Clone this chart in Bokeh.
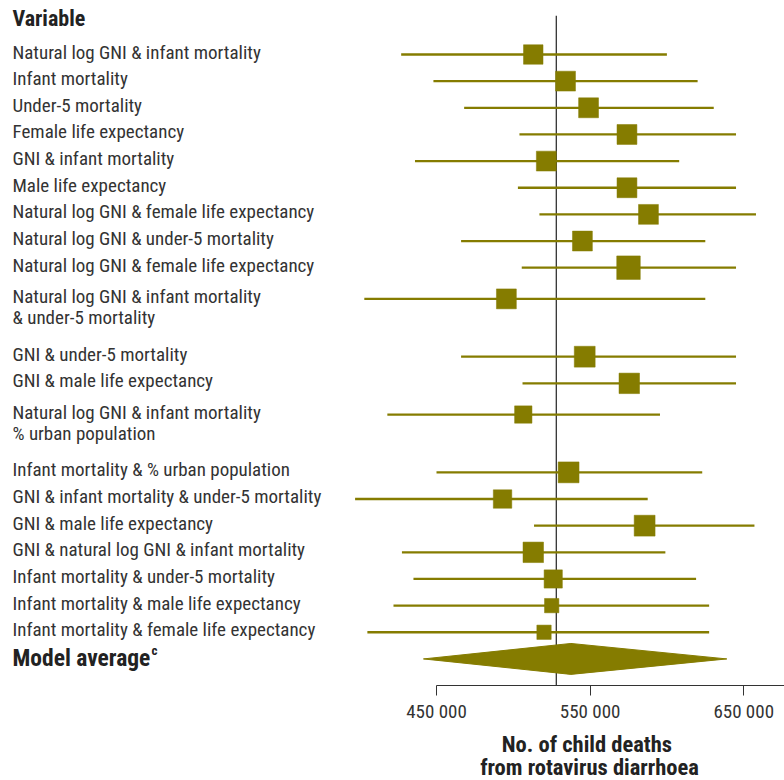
from bokeh.plotting import figure
from bokeh.models import Range1d, FixedTicker, ColumnDataSource, LabelSet, Label
from bokeh.core.properties import value
from bokeh.embed import file_html
from bokeh.resources import INLINE

# ---------------- data ----------------
labels = [
    "Natural log GNI & infant mortality",
    "Infant mortality",
    "Under-5 mortality",
    "Female life expectancy",
    "GNI & infant mortality",
    "Male life expectancy",
    "Natural log GNI & female life expectancy",
    "Natural log GNI & under-5 mortality",
    "Natural log GNI & female life expectancy",
    "Natural log GNI & infant mortality\n& under-5 mortality",
    "GNI & under-5 mortality",
    "GNI & male life expectancy",
    "Natural log GNI & infant mortality\n% urban population",
    "Infant mortality & % urban population",
    "GNI & infant mortality & under-5 mortality",
    "GNI & male life expectancy",
    "GNI & natural log GNI & infant mortality",
    "Infant mortality & under-5 mortality",
    "Infant mortality & male life expectancy",
    "Infant mortality & female life expectancy",
]
estimates = [513000, 534000, 549000, 574000, 521500, 574000, 588000, 545000, 575000, 495500,
             546500, 575500, 506500, 536000, 493000, 585500, 513000, 526000, 525000, 520000]
lower = [427000, 448000, 468000, 504000, 436000, 503000, 517000, 466000, 505500, 403000,
         466000, 506000, 418000, 450000, 397000, 513500, 427500, 435000, 422000, 405000]
upper = [600000, 620000, 630500, 645000, 608000, 645000, 658000, 625000, 645000, 625000,
         645000, 645000, 595500, 623000, 587500, 657000, 599000, 619000, 627500, 627500]
weights = [4.8, 5.0, 5.0, 5.0, 5.0, 5.0, 5.0, 5.0, 7.0, 5.0,
           5.5, 5.3, 3.8, 5.5, 4.3, 5.5, 5.3, 4.2, 2.6, 2.6]

avg_label = "Model average"
avg_lower, avg_estimate, avg_upper = 441500, 537500, 639000
reference_value = 528000

tick_values = [450000, 550000, 650000]
tick_labels = ["450 000", "550 000", "650 000"]
header = "Variable"
axis_title = ["No.  of child deaths", "from rotavirus diarrhoea"]

# ---------------- layout ----------------
OLIVE = "#857c00"
DARK = "#333333"
FONT = "'Liberation Sans Narrow', 'Roboto Condensed', 'Arial Narrow', Roboto, sans-serif"

W, H = 784, 780
AXIS_PX = 685     # px of the axis line from top
UNIT = 26.65      # px per row
FIRST = 54.0      # px of first row from top

n_lines = [s.count("\n") + 1 for s in labels]
pos = []
cur = 0.0
for i, n in enumerate(n_lines):
    if i > 0:
        cur += 1 + 0.17 * (n - 1) + 1.17 * (n_lines[i - 1] - 1)
    pos.append(cur)
avg_pos = pos[-1] + 1.0
header_pos = -1.37
axis_pos = (AXIS_PX - FIRST) / UNIT

x_start = 450000 - 436 * (100000 / 153.6)
x_end = 450000 + (W - 436) * (100000 / 153.6)

p = figure(width=W, height=H, output_backend="svg", toolbar_location=None,
           x_range=Range1d(x_start, x_end),
           y_range=Range1d((H - FIRST) / UNIT, -FIRST / UNIT),
           x_axis_location="below", y_axis_location=None,
           min_border=0)
p.outline_line_color = None
p.grid.visible = False
p.background_fill_color = "white"
p.border_fill_color = "white"

sizes = [8.9 * w ** 0.5 for w in weights]
src = ColumnDataSource(dict(y=pos, est=estimates, lo=lower, hi=upper,
                            size=sizes, label=labels))

# reference line
p.segment(x0=[reference_value], x1=[reference_value], y0=[header_pos - 0.08],
          y1=[axis_pos], line_color=DARK, line_width=1.3)

# CI lines & squares
p.segment(x0="lo", x1="hi", y0="y", y1="y", source=src, line_color=OLIVE, line_width=2.3)
p.scatter(x="est", y="y", size="size", marker="square", source=src,
          fill_color=OLIVE, line_color=OLIVE, line_width=0.5)

# diamond
half = 0.58
p.patch(x=[avg_lower, avg_estimate, avg_upper, avg_estimate],
        y=[avg_pos, avg_pos - half, avg_pos, avg_pos + half],
        fill_color=OLIVE, line_color=OLIVE, line_width=1)

# labels
ls = LabelSet(x=12, x_units="screen", y="y", text="label", source=src,
              text_font=value(FONT), text_font_size="19px", text_color=DARK,
              text_baseline="top", y_offset=14, text_line_height=0.92)
p.add_layout(ls)
p.add_layout(Label(x=12, x_units="screen", y=header_pos, text=header,
                   text_font=FONT, text_font_size="22px", text_font_style="bold",
                   text_color="#222222", text_baseline="middle", y_offset=-1))
p.add_layout(Label(x=12, x_units="screen", y=avg_pos, text=avg_label,
                   text_font=FONT, text_font_size="23.5px", text_font_style="bold",
                   text_color="#222222", text_baseline="middle", y_offset=1))
p.add_layout(Label(x=151, x_units="screen", y=avg_pos, text="c",
                   text_font=FONT, text_font_size="13px", text_font_style="bold",
                   text_color="#222222", text_baseline="middle", y_offset=8))

# axis (drawn at a fixed place inside the frame)
ax = p.xaxis[0]
ax.fixed_location = axis_pos
ax.bounds = (tick_values[0], x_end)
ax.ticker = FixedTicker(ticks=tick_values)
ax.major_label_overrides = {v: t for v, t in zip(tick_values, tick_labels)}
ax.minor_tick_line_color = None
ax.major_tick_in = 0
ax.major_tick_out = 10
ax.axis_line_color = DARK
ax.major_tick_line_color = DARK
ax.major_label_text_font = FONT
ax.major_label_text_font_size = "19px"
ax.major_label_text_color = DARK
ax.major_label_standoff = 4

# axis title
for i, t in enumerate(axis_title):
    p.add_layout(Label(x=589, x_units="screen", y=H - 743 - 23.5 * i, y_units="screen",
                       text=t, text_font=FONT, text_font_size="22.5px",
                       text_font_style="bold", text_color="#222222",
                       text_align="center", text_baseline="middle"))

open("out.html", "w").write(file_html(p, INLINE))
